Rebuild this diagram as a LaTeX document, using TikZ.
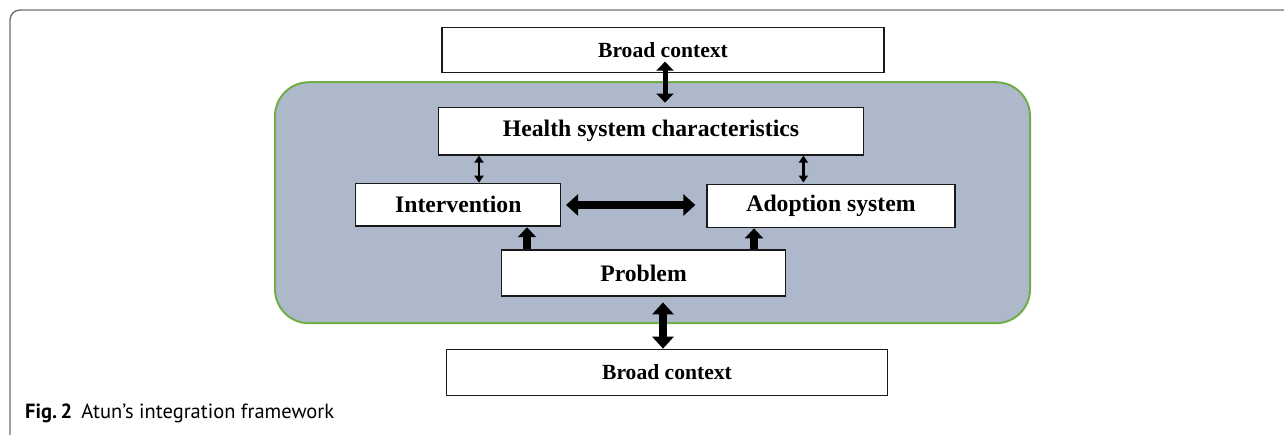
\documentclass[tikz,border=0pt]{standalone}
\usepackage{fontspec}
\setmainfont{Liberation Serif}
\newfontfamily\capfont{PT Sans}
\usetikzlibrary{arrows.meta,calc}
\definecolor{panel}{HTML}{ADB9CA}
\definecolor{panelline}{HTML}{70AD47}
\definecolor{framegray}{HTML}{6E6E6E}
\tikzset{
  box/.style={draw=black!90, line width=1.3pt, fill=white, inner sep=0pt, font=\bfseries\fontsize{23.7}{26}\selectfont},
  bcbox/.style={box, font=\bfseries\fontsize{21.6}{24}\selectfont},
  arrbig/.style={line width=8pt, arrows={Triangle[width=21pt,length=12pt]-Triangle[width=21pt,length=12pt]}},
  arrmid/.style={line width=5pt, arrows={Triangle[width=17pt,length=9pt]-Triangle[width=17pt,length=9pt]}},
  arrsmall/.style={line width=2.3pt, arrows={Triangle[width=9pt,length=7pt]-Triangle[width=9pt,length=7pt]}},
  arrup/.style={line width=8pt, arrows={-Triangle[width=18pt,length=10pt]}}
}
\begin{document}
\begin{tikzpicture}[x=1pt,y=1pt]
\useasboundingbox (0,0) rectangle (1284,-434);
\begin{scope}
\clip (0,0) rectangle (1284,-434);
\draw[framegray, line width=1.4pt, rounded corners=10pt] (10,-10) rectangle (1300,-450);
\end{scope}
% panel
\node[draw=panelline, fill=panel, line width=2pt, rounded corners=34pt, minimum width=755pt, minimum height=241pt, inner sep=0pt] (panel) at (652.5,-202.7) {};
% boxes
\node[bcbox, minimum width=442pt, minimum height=45pt] (bc1) at (663,-49.8) {Broad context};
\node[box, minimum width=425pt, minimum height=47.3pt] (hsc) at (651,-131.3) {Health system characteristics};
\node[box, minimum width=205pt, minimum height=42.7pt] (int) at (458.3,-204.7) {Intervention};
\node[box, minimum width=248pt, minimum height=43pt] (ado) at (831,-206.2) {Adoption system};
\node[box, minimum width=284.3pt, minimum height=46pt] (prob) at (643.5,-273) {Problem};
\node[bcbox, minimum width=441pt, minimum height=46.4pt] (bc2) at (667,-372.5) {Broad context};
% connectors
\draw[arrmid] ([yshift=11.3pt]bc1.south -| 665,0) -- ([yshift=4.4pt]hsc.north -| 665,0);
\draw[arrsmall] (hsc.south -| 479,0) -- (int.north -| 479,0);
\draw[arrsmall] (hsc.south -| 803.4,0) -- ([yshift=1.5pt]ado.north -| 803.4,0);
\draw[arrbig] ([xshift=4.6pt]int.east |- 0,-205) -- ([xshift=-11pt]ado.west |- 0,-205);
\draw[arrup] (prob.north -| 527,0) -- ([yshift=-0.5pt]int.south -| 527,0);
\draw[arrup] (prob.north -| 754,0) -- (ado.south -| 754,0);
\draw[arrbig] ([yshift=-5.7pt]prob.south -| 663,0) -- (bc2.north -| 663,0);
% caption
\node[anchor=base west, inner sep=0pt, font=\capfont\fontsize{20.5}{24}\selectfont] (cap) at (25,-418) {\textbf{Fig.\,2}\hspace{0.45em}Atun’s integration framework};
\end{tikzpicture}
\end{document}
